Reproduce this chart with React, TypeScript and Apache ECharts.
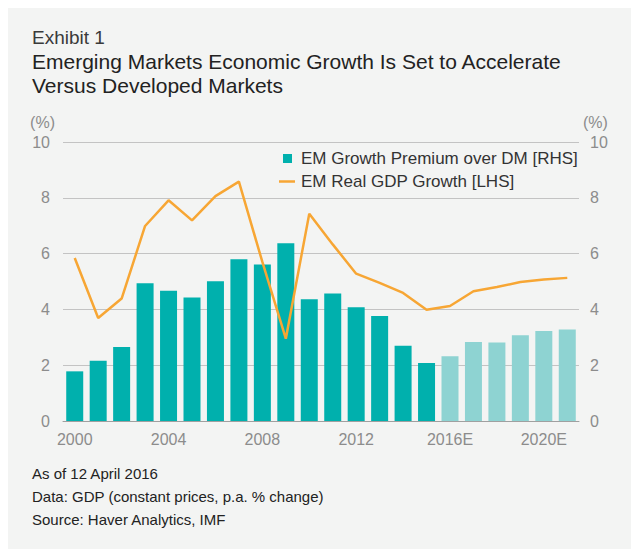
import React, { useEffect, useRef } from "react";
import * as echarts from "echarts";

const categories = [
  "2000", "2001", "2002", "2003", "2004", "2005", "2006", "2007", "2008", "2009",
  "2010", "2011", "2012", "2013", "2014", "2015", "2016E", "2017E", "2018E", "2019E",
  "2020E", "2021E",
];
const premiumRHS = [
  1.78, 2.16, 2.65, 4.94, 4.67, 4.43, 5.01, 5.8, 5.61, 6.37,
  4.36, 4.57, 4.08, 3.76, 2.7, 2.08, 2.32, 2.83, 2.81, 3.07,
  3.23, 3.28,
];
const gdpLHS = [
  5.84, 3.69, 4.39, 6.99, 7.91, 7.19, 8.06, 8.58, 5.7, 2.95,
  7.43, 6.33, 5.28, 4.95, 4.59, 3.99, 4.12, 4.65, 4.8, 4.98,
  5.07, 5.13,
];
const forecastFrom = "2016E";
const yTicks = { min: 0, max: 10, interval: 2 };

const titleLines = [
  "Emerging Markets Economic Growth Is Set to Accelerate",
  "Versus Developed Markets",
];
const notes = [
  "As of 12 April 2016",
  "Data: GDP (constant prices, p.a. % change)",
  "Source: Haver Analytics, IMF",
];
const seriesNames = ["EM Growth Premium over DM [RHS]", "EM Real GDP Growth [LHS]"];

const TEAL = "#00b0ad";
const TEAL_LIGHT = "#8ed3d2";
const ORANGE = "#f7a634";
const FONT = "Liberation Sans, Arial, sans-serif";

export default function App() {
  const ref = useRef<HTMLDivElement>(null);
  useEffect(() => {
    if (!ref.current) return;
    const chart = echarts.init(ref.current, undefined, { renderer: "svg" });
    const fIdx = categories.indexOf(forecastFrom);
    const axisLabel = { color: "#8c8c8c", fontSize: 16, fontFamily: FONT };
    const legendText = { color: "#333", fontSize: 17, fontFamily: FONT };
    chart.setOption({
      animation: false,
      backgroundColor: "#f3f4f3",
      textStyle: { fontFamily: FONT },
      grid: { left: 55, right: 52, top: 134, bottom: 128 },
      legend: [
        {
          data: [{ name: seriesNames[0], icon: "rect" }],
          left: 275,
          top: 142,
          padding: 0,
          itemWidth: 9,
          itemHeight: 9,
          textStyle: { ...legendText, padding: [0, 0, 0, 4] },
        },
        {
          data: [{ name: seriesNames[1], icon: "rect" }],
          left: 271,
          top: 165,
          padding: 0,
          itemWidth: 16,
          itemHeight: 2.5,
          textStyle: { ...legendText, padding: [0, 0, 0, 1] },
        },
      ],
      xAxis: {
        type: "category",
        data: categories,
        axisTick: { show: false },
        axisLine: { lineStyle: { color: "#a0a0a0", width: 1 } },
        axisLabel: { ...axisLabel, interval: 3, margin: 10 },
      },
      yAxis: [
        {
          type: "value",
          ...yTicks,
          position: "left",
          name: "(%)",
          nameLocation: "end",
          nameGap: 12,
          nameTextStyle: { ...axisLabel, align: "right", padding: [0, 8, 0, 0] },
          axisLabel: { ...axisLabel, margin: 13 },
          axisLine: { show: false },
          axisTick: { show: false },
          splitLine: { lineStyle: { color: "#c3c3c3", width: 1.2 } },
        },
        {
          type: "value",
          ...yTicks,
          position: "right",
          name: "(%)",
          nameLocation: "end",
          nameGap: 12,
          nameTextStyle: { ...axisLabel, align: "left", padding: [0, 0, 0, 4] },
          axisLabel: { ...axisLabel, margin: 11 },
          axisLine: { show: false },
          axisTick: { show: false },
          splitLine: { show: false },
        },
      ],
      series: [
        {
          name: seriesNames[0],
          type: "bar",
          yAxisIndex: 1,
          barWidth: 17,
          itemStyle: { color: TEAL },
          data: premiumRHS.map((v, i) => ({
            value: v,
            itemStyle: { color: i >= fIdx ? TEAL_LIGHT : TEAL },
          })),
        },
        {
          name: seriesNames[1],
          type: "line",
          yAxisIndex: 0,
          symbol: "none",
          lineStyle: { color: ORANGE, width: 2.5 },
          itemStyle: { color: ORANGE },
          data: gdpLHS,
          z: 5,
        },
      ],
      graphic: [
        {
          type: "text",
          left: 24,
          top: 20,
          style: { text: "Exhibit 1", fill: "#3a3a3a", fontSize: 19, fontFamily: FONT },
        },
        ...titleLines.map((t, i) => ({
          type: "text",
          left: 24,
          top: 43 + i * 24,
          style: { text: t, fill: "#222", fontSize: 21, fontWeight: 500, fontFamily: FONT },
        })),
        ...notes.map((t, i) => ({
          type: "text",
          left: 24,
          top: 458 + i * 23,
          style: { text: t, fill: "#222", fontSize: 15, fontFamily: FONT },
        })),
      ],
    });
    return () => chart.dispose();
  }, []);
  return <div ref={ref} style={{ width: 623, height: 541 }} />;
}
